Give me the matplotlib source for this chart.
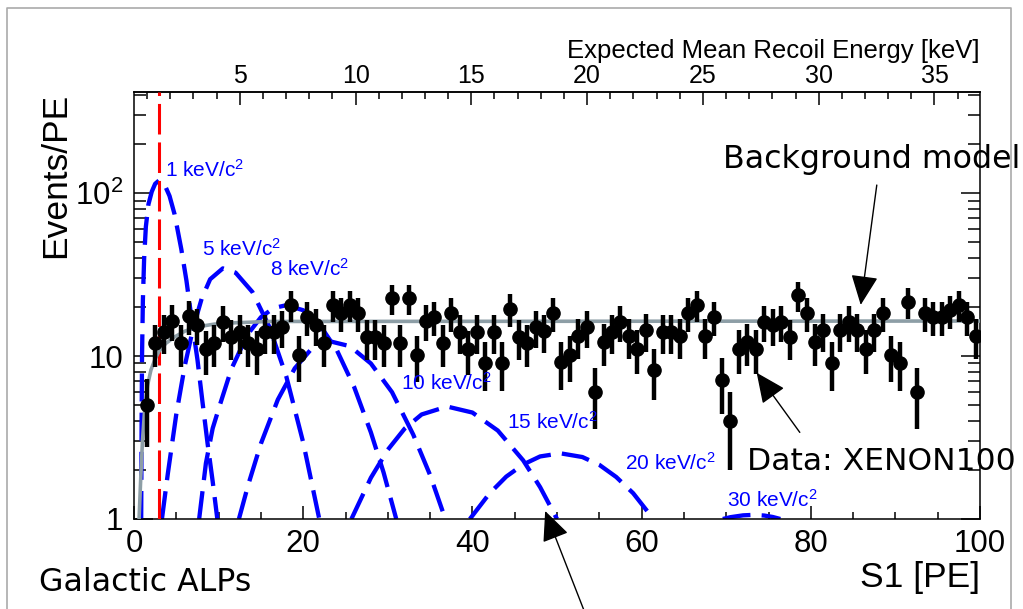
import numpy as np
import matplotlib
matplotlib.use("Agg")
import matplotlib.pyplot as plt
from matplotlib.lines import Line2D
from matplotlib.ticker import (FixedLocator, FixedFormatter, MultipleLocator,
                               LogLocator, NullFormatter)

plt.rcParams['font.family'] = ['Liberation Sans', 'DejaVu Sans']
plt.rcParams['mathtext.fontset'] = 'custom'
plt.rcParams['mathtext.rm'] = 'Liberation Sans'
plt.rcParams['mathtext.it'] = 'Liberation Sans:italic'
plt.rcParams['mathtext.default'] = 'regular'

# ---------------------------------------------------------------- data
# XENON100 S1 spectrum, 1 PE bins
s1_bin_centers = np.arange(1.5, 100.0, 1.0)
events_per_pe = [
    5.0, 12.1, 14.1, 16.4, 12.1, 17.7, 15.6, 11.0, 12.1, 16.2,
    13.1, 14.1, 12.1, 11.0, 14.1, 14.1, 15.1, 20.6, 10.1, 17.4,
    15.5, 12.1, 20.6, 18.3, 20.6, 18.3, 13.1, 13.1, 12.1, 22.6,
    12.1, 22.6, 10.1, 16.4, 17.4, 12.1, 18.3, 14.1, 11.0, 14.1,
    9.1, 14.1, 9.1, 19.5, 13.1, 12.1, 15.1, 14.2, 18.3, 9.2,
    10.1, 13.2, 15.1, 6.0, 12.2, 14.1, 16.2, 13.2, 11.1, 14.4,
    8.2, 14.1, 14.1, 13.2, 18.3, 20.6, 13.2, 17.4, 7.1, 4.0,
    11.1, 12.2, 11.1, 16.2, 15.5, 16.2, 13.1, 23.6, 18.4, 12.2,
    14.4, 9.1, 14.4, 16.2, 14.4, 11.1, 14.4, 18.4, 10.1, 9.1,
    21.5, 6.0, 18.4, 17.4, 17.4, 19.1, 20.6, 17.4, 13.2,
]

# background model
bg_pe = [0.45, 0.6, 0.8, 1.0, 1.25, 1.6, 2.0, 2.5, 3.0, 3.8, 4.8, 6.0,
         7.5, 9.5, 12.0, 16.0, 100.0]
bg_val = [0.5, 1.0, 1.8, 3.0, 4.6, 6.6, 8.2, 9.6, 10.8, 12.0, 13.1, 14.2,
          15.1, 15.7, 16.0, 16.3, 16.4]

# galactic ALP signal expectations
alp_masses = ['1', '5', '8', '10', '15', '20', '30']
sig_1_pe = [0.85, 0.9, 0.95, 1.05, 1.2, 1.4, 1.7, 2.1, 2.5, 3.0, 3.6, 4.2,
            4.8, 5.6, 6.2, 6.8, 7.5, 8.1, 8.7, 9.3, 9.85]
sig_1_val = [1, 4, 10, 22, 40, 62, 85, 102, 114, 120, 113, 96,
             74, 45, 29, 17, 9.5, 5.2, 2.9, 1.7, 1]
sig_5_pe = [3.3, 4.0, 5.0, 6.0, 7.0, 8.0, 9.0, 10.5, 12.0, 14.0, 16.0,
            18.0, 20.0, 21.9]
sig_5_val = [1, 1.9, 4.4, 8.7, 14.9, 22.5, 29.6, 34.5, 32.5, 24.7, 15.1,
             7.5, 2.95, 1]
sig_8_pe = [7.7, 8.5, 9.3, 10.2, 11.5, 13.4, 15.0, 16.5, 18.0, 20.0, 22.0,
            24.0, 26.0, 28.0, 29.5, 31.0]
sig_8_val = [1, 2.2, 3.6, 5.1, 8.3, 13.5, 17.3, 19.7, 20.5, 19.1, 15.4,
             10.8, 6.5, 3.4, 1.93, 1]
sig_10_pe = [12.4, 13.5, 15.0, 17.0, 19.0, 21.0, 23.2, 25.5, 28.0, 30.5,
             33.0, 35.0, 36.8]
sig_10_val = [1, 1.62, 2.9, 5.4, 8.4, 11.1, 12.3, 11.5, 9.0, 6.0, 3.3,
              1.86, 1]
sig_15_pe = [25.7, 28.0, 30.0, 32.0, 34.0, 37.0, 40.0, 43.0, 46.0, 48.0, 50.0]
sig_15_val = [1, 1.79, 2.66, 3.59, 4.38, 4.9, 4.5, 3.49, 2.29, 1.57, 1]
sig_20_pe = [39.7, 42.0, 44.0, 46.0, 48.0, 50.4, 53.0, 55.0, 57.0, 59.0, 61.4]
sig_20_val = [1, 1.43, 1.82, 2.16, 2.42, 2.53, 2.40, 2.15, 1.81, 1.44, 1]
sig_30_pe = [69.6, 70.5, 72.0, 73.2, 74.5, 75.5, 76.4]
sig_30_val = [1, 1.026, 1.053, 1.06, 1.05, 1.029, 1]

s1_threshold = 3.0

# S1 -> mean recoil energy scale for the upper axis
KEV_PER_PE_SLOPE = 2.737
KEV_PE_OFFSET = 1.18

# ---------------------------------------------------------------- figure
W, H = 1023, 609
fig = plt.figure(figsize=(W / 100, H / 100), dpi=100)

# frame around the canvas, kept underneath everything else
fig.add_artist(Line2D([7 / W, 7 / W, 1011 / W, 1011 / W],
                      [0, 1 - 8 / H, 1 - 8 / H, 0],
                      transform=fig.transFigure, color='#aaaaaa', lw=1.2,
                      zorder=-5))

ax = fig.add_axes([134 / W, 1 - 519 / H, (980 - 134) / W, (519 - 92) / H])
ax.patch.set_alpha(0.0)

ax.set_xlim(0, 100)
ax.set_yscale('log')
ax.set_ylim(1, 417)

signal_curves = [(sig_1_pe, sig_1_val), (sig_5_pe, sig_5_val),
                 (sig_8_pe, sig_8_val), (sig_10_pe, sig_10_val),
                 (sig_15_pe, sig_15_val), (sig_20_pe, sig_20_val),
                 (sig_30_pe, sig_30_val)]
for pe, val in signal_curves:
    ax.plot(pe, val, color='#0000ff', lw=3.1, dashes=(6.5, 2.6),
            dash_capstyle='butt', zorder=2)

ax.axvline(s1_threshold, color='#ff0000', lw=2.2, dashes=(10, 2.6), zorder=3)

ax.plot(bg_pe, bg_val, color='#8d9ea6', lw=2.6, zorder=4)

counts = np.asarray(events_per_pe)
ax.errorbar(s1_bin_centers, counts, yerr=np.sqrt(counts), fmt='o',
            color='black', ms=9.5, elinewidth=3.2, capsize=0, zorder=5)

# mass labels
label_pos = [(3.66, 125), (8.04, 41), (16.1, 31), (31.6, 6.2),
             (44.05, 3.6), (58.0, 2.0), (70.06, 1.18)]
for m, (lx, ly) in zip(alp_masses, label_pos):
    ax.text(lx, ly, m + ' keV/c$^2$', color='#0000ff', fontsize=15,
            ha='left', va='baseline', zorder=6)

# axes styling
for sp in ax.spines.values():
    sp.set_linewidth(1.1)
ax.xaxis.set_major_locator(MultipleLocator(20))
ax.xaxis.set_minor_locator(MultipleLocator(5))
ax.tick_params(axis='x', which='both', direction='in', bottom=True,
               top=False, labelsize=22.5, pad=7, width=1.1)
ax.tick_params(axis='x', which='major', length=9.5)
ax.tick_params(axis='x', which='minor', length=5)

ax.yaxis.set_major_locator(FixedLocator([1, 10, 100]))
ax.yaxis.set_major_formatter(FixedFormatter(['1', '10', '10$^2$']))
ax.yaxis.set_minor_locator(LogLocator(base=10, subs=np.arange(2, 10),
                                      numticks=30))
ax.yaxis.set_minor_formatter(NullFormatter())
ax.tick_params(axis='y', which='both', direction='in', left=True,
               right=True, labelsize=22.5, pad=8, width=1.1)
ax.tick_params(axis='y', which='major', length=13.5)
ax.tick_params(axis='y', which='minor', length=8.5)


def pe_to_kev(x):
    return (np.asarray(x) + KEV_PE_OFFSET) / KEV_PER_PE_SLOPE


def kev_to_pe(e):
    return np.asarray(e) * KEV_PER_PE_SLOPE - KEV_PE_OFFSET


sec = ax.secondary_xaxis('top', functions=(pe_to_kev, kev_to_pe))
sec.xaxis.set_major_locator(MultipleLocator(5))
sec.xaxis.set_minor_locator(MultipleLocator(1))
sec.tick_params(which='both', direction='in', labelsize=18, pad=3, width=1.1)
sec.tick_params(which='major', length=9.5)
sec.tick_params(which='minor', length=5)
sec.spines['top'].set_linewidth(1.1)

# axis titles
fig.text(980 / W, 1 - 58 / H, 'Expected Mean Recoil Energy [keV]',
         fontsize=18.5, ha='right', va='baseline')
fig.text(980 / W, 1 - 587 / H, 'S1 [PE]', fontsize=25.5,
         ha='right', va='baseline')
fig.text(56 / W, 1 - 93 / H, 'Events/PE', fontsize=25.5, rotation=90,
         ha='center', va='top')

# annotations
fig.text(39 / W, 1 - 591 / H, 'Galactic ALPs', fontsize=22.7,
         family='DejaVu Sans', ha='left', va='baseline')

arrow_style = dict(arrowstyle='-|>,head_length=0.55,head_width=0.25',
                   mutation_scale=34, color='black', lw=1.0,
                   shrinkA=0, shrinkB=0)
ax.text(69.6, 142, 'Background model', fontsize=22.8, family='DejaVu Sans',
        ha='left', va='baseline')
ax.annotate('', xy=(85.9, 20.6), xytext=(87.8, 112),
            arrowprops=arrow_style, annotation_clip=False)
ax.text(72.5, 2.0, 'Data: XENON100', fontsize=22.6, family='DejaVu Sans',
        ha='left', va='baseline')
ax.annotate('', xy=(73.6, 7.9), xytext=(78.7, 3.4),
            arrowprops=arrow_style, annotation_clip=False)
ax.annotate('', xy=(48.6, 1.12), xytext=(53.5, 0.25),
            arrowprops=arrow_style, annotation_clip=False)

fig.savefig('out.png', dpi=100)
